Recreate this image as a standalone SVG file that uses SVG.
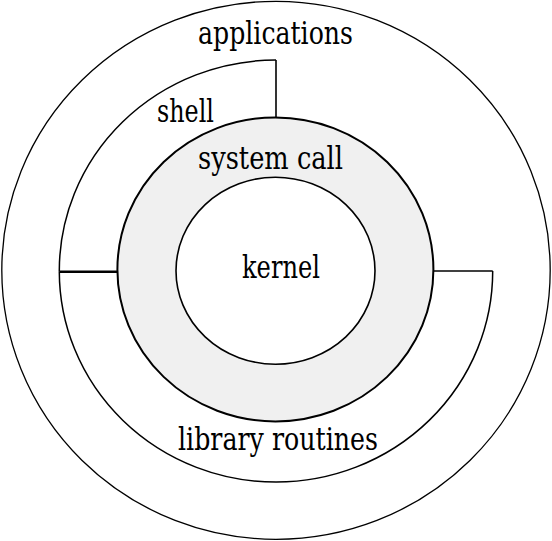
<svg xmlns="http://www.w3.org/2000/svg" width="552" height="541" viewBox="0 0 552 541">
<style>
.ln{fill:none;stroke:#000;stroke-width:1.5}
text{font-family:'DejaVu Serif',serif;font-size:31px;fill:#000}
</style>
<rect width="552" height="541" fill="#fff"/>
<g id="applications">
<ellipse cx="276" cy="270.3" rx="274.2" ry="269" fill="#fff" stroke="#000" stroke-width="1.3"/>
<text x="198" y="44" textLength="155" lengthAdjust="spacingAndGlyphs">applications</text>
</g>
<g id="shell">
<path class="ln" d="M59.3 271.5 A216.7 210.8 0 0 1 276 60"/>
<text x="157" y="122" textLength="57" lengthAdjust="spacingAndGlyphs">shell</text>
</g>
<g id="library-routines">
<path class="ln" d="M59.3 271.5 A216.7 210.8 0 0 0 492.7 271"/>
<text x="178" y="450" textLength="200" lengthAdjust="spacingAndGlyphs">library routines</text>
</g>
<g id="system-call">
<ellipse cx="275.4" cy="269.4" rx="158" ry="152" fill="#f0f0f0" stroke="#000" stroke-width="2"/>
<text x="198" y="169" textLength="145" lengthAdjust="spacingAndGlyphs">system call</text>
</g>
<g id="kernel">
<ellipse cx="275.5" cy="270.7" rx="99.5" ry="93.5" fill="#fff" stroke="#000" stroke-width="1.6"/>
<text x="242" y="278" textLength="78" lengthAdjust="spacingAndGlyphs">kernel</text>
</g>
<g id="connectors">
<line x1="59.3" y1="271.8" x2="117.5" y2="271.8" stroke="#000" stroke-width="2.6"/>
<line x1="433.4" y1="271" x2="492.7" y2="271" stroke="#000" stroke-width="1.6"/>
<line x1="276" y1="60" x2="276" y2="117.5" stroke="#000" stroke-width="1.6"/>
</g>
</svg>
